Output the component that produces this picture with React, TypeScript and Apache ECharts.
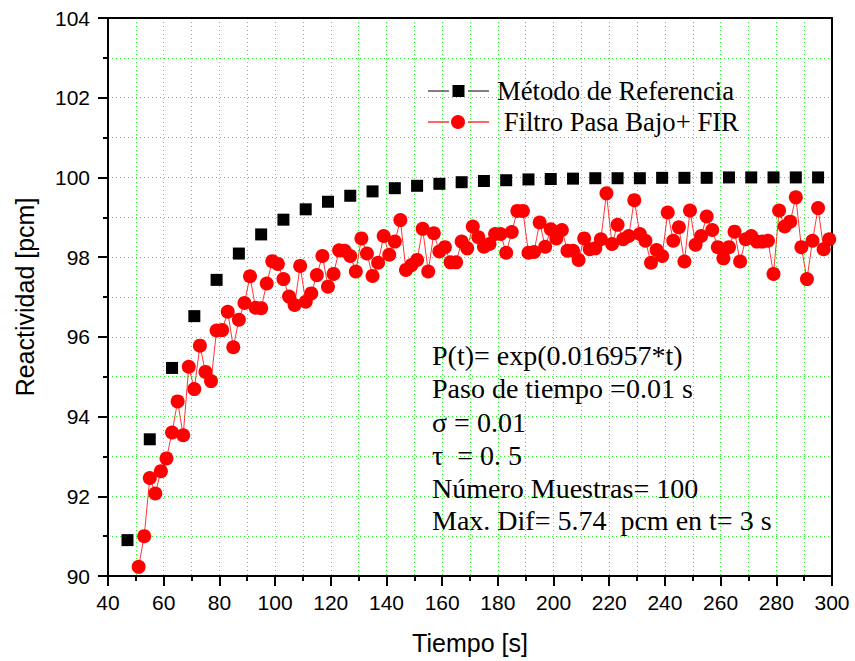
import React, { useEffect, useRef } from "react";
import * as echarts from "echarts";

const xTicks = [40, 60, 80, 100, 120, 140, 160, 180, 200, 220, 240, 260, 280, 300];
const yTicks = [90, 92, 94, 96, 98, 100, 102, 104];

const refTime = [47, 55, 63, 71, 79, 87, 95, 103, 111, 119, 127, 135, 143, 151, 159, 167, 175, 183, 191, 199, 207, 215, 223, 231, 239, 247, 255, 263, 271, 279, 287, 295];
const refValues = [90.9, 93.43, 95.22, 96.52, 97.43, 98.09, 98.57, 98.94, 99.2, 99.39, 99.54, 99.65, 99.73, 99.79, 99.84, 99.88, 99.91, 99.93, 99.95, 99.96, 99.97, 99.98, 99.98, 99.98, 99.99, 99.99, 99.99, 100, 100, 100, 100, 100];

const firTime = [51, 53, 55, 57, 59, 61, 63, 65, 67, 69, 71, 73, 75, 77, 79, 81, 83, 85, 87, 89, 91, 93, 95, 97, 99, 101, 103, 105, 107, 109, 111, 113, 115, 117, 119, 121, 123, 125, 127, 129, 131, 133, 135, 137, 139, 141, 143, 145, 147, 149, 151, 153, 155, 157, 159, 161, 163, 165, 167, 169, 171, 173, 175, 177, 179, 181, 183, 185, 187, 189, 191, 193, 195, 197, 199, 201, 203, 205, 207, 209, 211, 213, 215, 217, 219, 221, 223, 225, 227, 229, 231, 233, 235, 237, 239, 241, 243, 245, 247, 249, 251, 253, 255, 257, 259, 261, 263, 265, 267, 269, 271, 273, 275, 277, 279, 281, 283, 285, 287, 289, 291, 293, 295, 297, 299];
const firValues = [90.23, 91.0, 92.46, 92.07, 92.63, 92.95, 93.6, 94.38, 93.53, 95.25, 94.69, 95.78, 95.12, 94.89, 96.16, 96.17, 96.63, 95.74, 96.43, 96.85, 97.52, 96.73, 96.72, 97.34, 97.9, 97.83, 97.45, 97.01, 96.8, 97.78, 96.88, 97.09, 97.55, 98.03, 97.26, 97.58, 98.17, 98.16, 98.03, 97.64, 98.47, 98.09, 97.53, 97.86, 98.53, 98.06, 98.39, 98.93, 97.68, 97.8, 97.93, 98.71, 97.64, 98.6, 98.14, 98.25, 97.87, 97.87, 98.39, 98.22, 98.77, 98.5, 98.26, 98.33, 98.58, 98.58, 98.11, 98.63, 99.16, 99.16, 98.11, 98.13, 98.87, 98.26, 98.7, 98.47, 98.68, 98.16, 98.16, 97.93, 98.47, 98.2, 98.22, 98.45, 99.6, 98.33, 98.81, 98.45, 98.53, 99.43, 98.58, 98.41, 97.86, 98.18, 98.03, 99.12, 98.41, 98.75, 97.89, 99.17, 98.31, 98.53, 99.02, 98.68, 98.25, 97.97, 98.25, 98.64, 97.89, 98.45, 98.53, 98.39, 98.39, 98.41, 97.58, 99.17, 98.77, 98.89, 99.5, 98.25, 97.45, 98.41, 99.23, 98.2, 98.45];

const legendNames = ["Método de Referencia", "\u00a0Filtro Pasa Bajo+ FIR"];
const annotationLines = [
  "P(t)= exp(0.016957*t)",
  "Paso de tiempo =0.01 s",
  "σ = 0.01",
  "τ \u00a0= 0. 5",
  "Número Muestras= 100",
  "Max. Dif= 5.74 \u00a0pcm en t= 3 s",
];

const SANS = "'Liberation Sans', Arial, sans-serif";
const SERIF = "'Liberation Serif', 'Times New Roman', serif";
const GRID_GREEN = "#33ee33";

export default function App() {
  const ref = useRef<HTMLDivElement>(null);
  useEffect(() => {
    document.body.style.margin = "0";
    if (!ref.current) return;
    const chart = echarts.init(ref.current, null, { renderer: "svg" });
    const gridLine = { show: true, lineStyle: { color: GRID_GREEN, width: 1, type: [1, 3] as any } };
    const serifText = (text: string, x: number, y: number, size: number) => ({
      type: "text",
      x,
      y,
      style: { text, fill: "#000", font: `${size}px ${SERIF}`, textVerticalAlign: "middle", verticalAlign: "middle" },
      z: 100,
    });
    const graphic: any[] = [
      { type: "line", shape: { x1: 428, y1: 91, x2: 449, y2: 91 }, style: { stroke: "#555", lineWidth: 1.5 }, z: 100 },
      { type: "rect", shape: { x: 452.5, y: 85, width: 12, height: 12 }, style: { fill: "#000" }, z: 100 },
      { type: "line", shape: { x1: 468, y1: 91, x2: 489, y2: 91 }, style: { stroke: "#555", lineWidth: 1.5 }, z: 100 },
      serifText(legendNames[0], 497, 91, 26.7),
      { type: "line", shape: { x1: 428, y1: 122, x2: 449, y2: 122 }, style: { stroke: "#ff0000", lineWidth: 1.2 }, z: 100 },
      { type: "circle", shape: { cx: 458, cy: 122, r: 7 }, style: { fill: "#ff0000" }, z: 100 },
      { type: "line", shape: { x1: 468, y1: 122, x2: 489, y2: 122 }, style: { stroke: "#ff0000", lineWidth: 1.2 }, z: 100 },
      serifText(legendNames[1], 497, 122, 26.7),
    ];
    const lineYs = [355, 388, 422, 455, 488, 520];
    annotationLines.forEach((t, i) => graphic.push(serifText(t, 432, lineYs[i], 28)));

    chart.setOption({
      animation: false,
      backgroundColor: "#fff",
      grid: { left: 108, right: 23, top: 18, bottom: 85 },
      xAxis: [
        {
          type: "value",
          min: xTicks[0],
          max: xTicks[xTicks.length - 1],
          interval: 20,
          name: "Tiempo [s]",
          nameLocation: "middle",
          nameGap: 54,
          nameTextStyle: { fontFamily: SANS, fontSize: 25, color: "#000" },
          axisLine: { show: true, onZero: false, lineStyle: { color: "#000", width: 2 } },
          axisTick: { show: true, length: 10, lineStyle: { color: "#000", width: 2 } },
          minorTick: { show: true, splitNumber: 2, length: 5, lineStyle: { color: "#000", width: 2 } },
          axisLabel: { fontFamily: SANS, fontSize: 21, color: "#000", margin: 16 },
          splitLine: gridLine,
          minorSplitLine: gridLine,
        },
        {
          type: "value",
          position: "top",
          min: xTicks[0],
          max: xTicks[xTicks.length - 1],
          interval: 20,
          axisLine: { show: true, onZero: false, lineStyle: { color: "#000", width: 2 } },
          axisTick: { show: false },
          axisLabel: { show: false },
          splitLine: { show: false },
        },
      ],
      yAxis: [
        {
          type: "value",
          min: yTicks[0],
          max: yTicks[yTicks.length - 1],
          interval: 2,
          name: "Reactividad [pcm]",
          nameLocation: "middle",
          nameGap: 71,
          nameTextStyle: { fontFamily: SANS, fontSize: 25, color: "#000" },
          axisLine: { show: true, onZero: false, lineStyle: { color: "#000", width: 2 } },
          axisTick: { show: true, length: 10, lineStyle: { color: "#000", width: 2 } },
          minorTick: { show: true, splitNumber: 2, length: 5, lineStyle: { color: "#000", width: 2 } },
          axisLabel: { fontFamily: SANS, fontSize: 21, color: "#000", margin: 18 },
          splitLine: gridLine,
          minorSplitLine: gridLine,
        },
        {
          type: "value",
          position: "right",
          min: yTicks[0],
          max: yTicks[yTicks.length - 1],
          interval: 2,
          axisLine: { show: true, onZero: false, lineStyle: { color: "#000", width: 2 } },
          axisTick: { show: false },
          axisLabel: { show: false },
          splitLine: { show: false },
        },
      ],
      series: [
        {
          name: legendNames[0],
          type: "scatter",
          symbol: "rect",
          symbolSize: 12,
          itemStyle: { color: "#000", opacity: 1 },
          data: refTime.map((t, i) => [t, refValues[i]]),
          z: 3,
        },
        {
          name: legendNames[1],
          type: "line",
          symbol: "circle",
          symbolSize: 14,
          showAllSymbol: true,
          lineStyle: { color: "#ff0000", width: 0.8 },
          itemStyle: { color: "#ff0000" },
          data: firTime.map((t, i) => [t, firValues[i]]),
          z: 4,
        },
      ],
      graphic,
    });
    return () => chart.dispose();
  }, []);
  return <div ref={ref} style={{ width: 855, height: 661 }} />;
}
